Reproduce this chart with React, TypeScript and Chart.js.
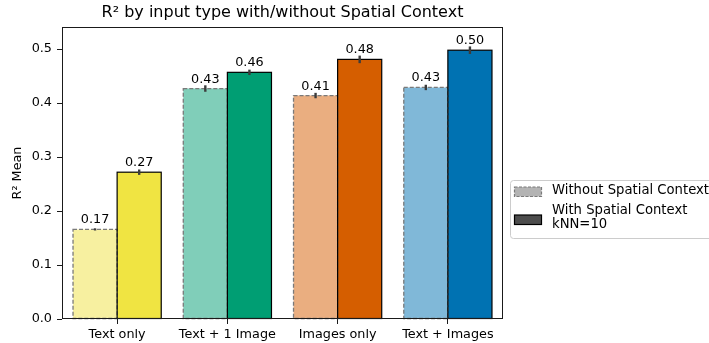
import React, { useEffect, useRef } from 'react';
import { Chart, registerables } from 'chart.js';

Chart.register(...registerables);

const categories = ['Text only', 'Text + 1 Image', 'Images only', 'Text + Images'];
const withoutValues = [0.166, 0.427, 0.414, 0.429];
const withValues = [0.272, 0.457, 0.481, 0.498];
const withoutErrors = [0.002, 0.006, 0.005, 0.005];
const withErrors = [0.005, 0.005, 0.007, 0.007];
const withoutColors = ['#F7F0A0', '#80CEB9', '#EAAE80', '#80B8D8'];
const withColors = ['#F0E442', '#009E73', '#D55E00', '#0072B2'];
const seriesLabels = ['Without Spatial Context', 'With Spatial Context\nkNN=10'];
const yTicks = [0, 0.1, 0.2, 0.3, 0.4, 0.5];
const yMax = 0.541;
const titleText = 'R² by input type with/without Spatial Context';
const yTitle = 'R² Mean';

const FONT = "'DejaVu Sans', sans-serif";
const FS = 12.8;

const decorPlugin = {
  id: 'decor',
  afterDatasetsDraw(chart: any) {
    const ctx = chart.ctx as CanvasRenderingContext2D;
    const ys = chart.scales.y;
    const metas = [chart.getDatasetMeta(0), chart.getDatasetMeta(1)];
    const errs = [withoutErrors, withErrors];
    const vals = [withoutValues, withValues];
    ctx.save();
    metas.forEach((meta: any, di: number) => {
      meta.data.forEach((bar: any) => {
        const p = bar.getProps(['x', 'y', 'base', 'width'], true);
        const l = p.x - p.width / 2;
        if (di === 0) {
          ctx.setLineDash([4, 2]);
          ctx.strokeStyle = '#7a7a7a';
          ctx.lineWidth = 1.3;
        } else {
          ctx.setLineDash([]);
          ctx.strokeStyle = '#000000';
          ctx.lineWidth = 1.2;
        }
        ctx.strokeRect(l, p.y, p.width, p.base - p.y);
      });
    });
    ctx.setLineDash([]);
    metas.forEach((meta: any, di: number) => {
      meta.data.forEach((bar: any, i: number) => {
        const v = vals[di][i];
        const e = errs[di][i];
        const x = bar.getProps(['x'], true).x;
        ctx.strokeStyle = '#3c3c3c';
        ctx.lineWidth = 2.4;
        ctx.beginPath();
        ctx.moveTo(x, ys.getPixelForValue(v - e));
        ctx.lineTo(x, ys.getPixelForValue(v + e));
        ctx.stroke();
      });
    });
    ctx.fillStyle = '#000';
    ctx.font = `${FS}px ${FONT}`;
    ctx.textAlign = 'center';
    ctx.textBaseline = 'alphabetic';
    metas.forEach((meta: any, di: number) => {
      meta.data.forEach((bar: any, i: number) => {
        const p = bar.getProps(['x', 'y'], true);
        ctx.fillText(vals[di][i].toFixed(2), p.x, p.y - 6);
      });
    });
    ctx.restore();
  },
  afterDraw(chart: any) {
    const ctx = chart.ctx as CanvasRenderingContext2D;
    const a = chart.chartArea;
    ctx.save();
    ctx.strokeStyle = '#1a1a1a';
    ctx.lineWidth = 1;
    const L = Math.round(a.left) + 0.5;
    const R = Math.round(a.right) - 0.5;
    const T = Math.round(a.top) + 0.5;
    const B = Math.round(a.bottom) - 0.5;
    ctx.strokeRect(L, T, R - L, B - T);
    ctx.fillStyle = '#000';
    ctx.font = `16px ${FONT}`;
    ctx.textAlign = 'center';
    ctx.textBaseline = 'middle';
    ctx.fillText(titleText, (a.left + a.right) / 2, 13);
    const lx = 510.5, ly = 180.5, lw = 230, lh = 58;
    ctx.beginPath();
    (ctx as any).roundRect(lx, ly, lw, lh, 3);
    ctx.fillStyle = 'rgba(255,255,255,0.85)';
    ctx.fill();
    ctx.strokeStyle = '#cccccc';
    ctx.lineWidth = 1;
    ctx.stroke();
    ctx.fillStyle = '#b3b3b3';
    ctx.fillRect(514.5, 187, 27, 9.5);
    ctx.setLineDash([3, 1.5]);
    ctx.strokeStyle = '#7a7a7a';
    ctx.lineWidth = 1.2;
    ctx.strokeRect(514.5, 187, 27, 9.5);
    ctx.setLineDash([]);
    ctx.fillStyle = '#4d4d4d';
    ctx.fillRect(514.5, 215, 27, 9.5);
    ctx.strokeStyle = '#000';
    ctx.strokeRect(514.5, 215, 27, 9.5);
    ctx.fillStyle = '#000';
    ctx.font = `13.2px ${FONT}`;
    ctx.textAlign = 'left';
    ctx.textBaseline = 'middle';
    ctx.fillText(seriesLabels[0], 552, 191);
    const lines = seriesLabels[1].split('\n');
    lines.forEach((t, i) => ctx.fillText(t, 552, 211 + i * 13.5));
    ctx.restore();
  },
};

export default function App() {
  const ref = useRef<HTMLCanvasElement | null>(null);
  useEffect(() => {
    document.body.style.margin = '0';
    const canvas = ref.current!;
    const chart = new Chart(canvas, {
      type: 'bar',
      data: {
        labels: categories,
        datasets: [
          {
            label: seriesLabels[0],
            data: withoutValues,
            backgroundColor: withoutColors,
            borderWidth: 0,
            barPercentage: 1,
            categoryPercentage: 0.8,
          },
          {
            label: seriesLabels[1],
            data: withValues,
            backgroundColor: withColors,
            borderWidth: 0,
            barPercentage: 1,
            categoryPercentage: 0.8,
          },
        ],
      },
      options: {
        responsive: false,
        animation: false,
        devicePixelRatio: 1,
        layout: { padding: { left: 0, right: 206, top: 27, bottom: 0 } },
        plugins: {
          legend: { display: false },
          tooltip: { enabled: false },
          title: { display: false },
        },
        scales: {
          x: {
            type: 'category',
            offset: true,
            grid: {
              display: true,
              offset: false,
              drawOnChartArea: false,
              drawTicks: true,
              tickLength: 5,
              color: '#1a1a1a',
            },
            border: { display: false },
            ticks: {
              color: '#000',
              font: { family: FONT, size: FS },
              padding: 3,
              maxRotation: 0,
              autoSkip: false,
            },
            afterFit: (s: any) => {
              s.height = 24;
            },
          },
          y: {
            type: 'linear',
            min: 0,
            max: yMax,
            afterBuildTicks: (s: any) => {
              s.ticks = yTicks.map((v) => ({ value: v }));
            },
            grid: {
              display: true,
              drawOnChartArea: false,
              drawTicks: true,
              tickLength: 5,
              color: '#1a1a1a',
            },
            border: { display: false },
            ticks: {
              color: '#000',
              font: { family: FONT, size: FS },
              padding: 5,
              callback: (v: any) => Number(v).toFixed(1),
            },
            title: {
              display: true,
              text: yTitle,
              color: '#000',
              font: { family: FONT, size: FS },
              padding: { top: 10, bottom: 0 },
            },
            afterFit: (s: any) => {
              s.width = 62;
            },
          },
        },
      },
      plugins: [decorPlugin],
    } as any);
    return () => chart.destroy();
  }, []);
  return (
    <div style={{ position: 'absolute', left: 0, top: 0, width: 709, height: 343 }}>
      <canvas ref={ref} width={709} height={343} style={{ display: 'block' }} />
    </div>
  );
}
